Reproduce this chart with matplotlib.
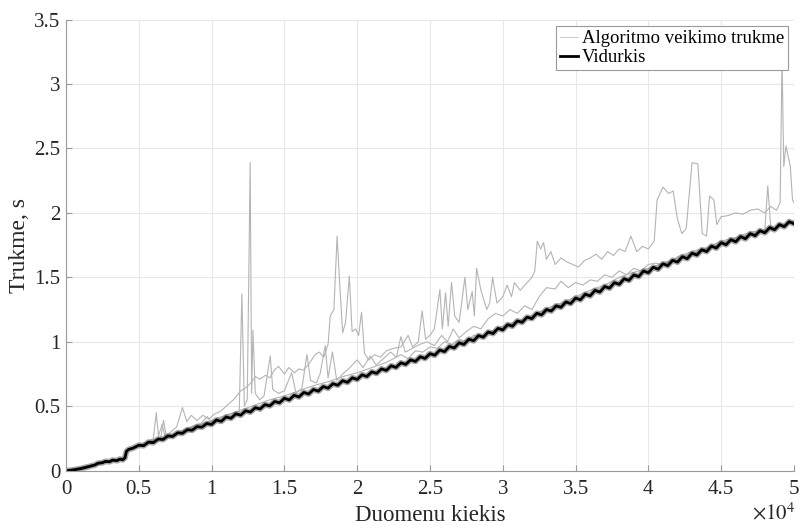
import numpy as np
import matplotlib
matplotlib.use("Agg")
import matplotlib.pyplot as plt
from matplotlib.ticker import FuncFormatter

plt.rcParams['font.family'] = ['Liberation Serif', 'DejaVu Serif']
plt.rcParams['mathtext.fontset'] = 'stix'

# ---- data (x in units of 1e4 elements, y in seconds) ----
# average line: start part, then a regular grid from 0.5 to 5.0
mean_x_start = [0, 0.05, 0.1, 0.15, 0.2, 0.22, 0.25, 0.27, 0.3, 0.32, 0.35, 0.37,
                0.39, 0.405, 0.415, 0.43, 0.46]
mean_y_start = [0.0, 0.006, 0.016, 0.03, 0.045, 0.058, 0.062, 0.072, 0.07, 0.082,
                0.078, 0.09, 0.085, 0.1, 0.15, 0.165, 0.175]
mean_y_grid = [
    0.198, 0.194, 0.222, 0.218, 0.246, 0.242, 0.270, 0.266, 0.294, 0.290,
    0.318, 0.314, 0.342, 0.338, 0.366,
    0.359, 0.393, 0.383, 0.417, 0.407, 0.441, 0.431, 0.465, 0.455, 0.489,
    0.479, 0.513, 0.503, 0.537, 0.527,
    0.562, 0.549, 0.585, 0.572, 0.607, 0.595, 0.630, 0.617, 0.653, 0.640,
    0.675, 0.663, 0.698, 0.685, 0.721,
    0.708, 0.744, 0.731, 0.767, 0.755, 0.790, 0.778, 0.814, 0.801, 0.837,
    0.825, 0.860, 0.848, 0.884, 0.871,
    0.908, 0.896, 0.936, 0.924, 0.964, 0.952, 0.992, 0.980, 1.020, 1.008,
    1.048, 1.036, 1.076, 1.064, 1.104,
    1.092, 1.133, 1.121, 1.162, 1.151, 1.191, 1.180, 1.221, 1.209, 1.250,
    1.239, 1.279, 1.268, 1.309, 1.297,
    1.339, 1.326, 1.369, 1.356, 1.399, 1.386, 1.429, 1.416, 1.459, 1.446,
    1.489, 1.476, 1.519, 1.506, 1.549,
    1.536, 1.578, 1.563, 1.605, 1.591, 1.632, 1.618, 1.660, 1.645, 1.687,
    1.673, 1.714, 1.700, 1.742, 1.727,
    1.769, 1.753, 1.792, 1.776, 1.816, 1.799, 1.839, 1.823, 1.862, 1.846,
    1.886, 1.869, 1.909, 1.893, 1.932, 1.916]

run_a_x = [0.0, 0.2, 0.4, 0.42, 0.5, 0.55, 0.6, 0.62, 0.635, 0.66, 0.68, 0.72, 0.76, 0.8,
           0.83, 0.86, 0.9, 0.94, 0.98, 1.02, 1.06, 1.1, 1.15, 1.2, 1.23, 1.27, 1.3, 1.33,
           1.37, 1.4, 1.43, 1.46, 1.5, 1.53, 1.57, 1.6, 1.63, 1.67, 1.71, 1.74, 1.77, 1.8,
           1.815, 1.84, 1.862, 1.88, 1.9, 1.92, 1.946, 1.965, 1.99, 2.01, 2.03, 2.05, 2.08,
           2.12, 2.16, 2.2, 2.25, 2.3, 2.35, 2.38, 2.42, 2.446, 2.47, 2.5, 2.53, 2.568,
           2.585, 2.607, 2.625, 2.648, 2.67, 2.7, 2.74, 2.76, 2.79, 2.805, 2.82, 2.85,
           2.89, 2.91, 2.93, 2.96, 3.0, 3.03, 3.06, 3.08, 3.12, 3.16, 3.2, 3.22, 3.237,
           3.26, 3.28, 3.3, 3.33, 3.36, 3.4, 3.44, 3.48, 3.52, 3.56, 3.6, 3.64, 3.68,
           3.72, 3.76, 3.8, 3.84, 3.88, 3.92, 3.96, 4.0, 4.04, 4.06, 4.1, 4.14, 4.17,
           4.2, 4.23, 4.26, 4.3, 4.34, 4.37, 4.4, 4.42, 4.45, 4.47, 4.5, 4.55, 4.6, 4.65,
           4.7, 4.75, 4.8, 4.84, 4.88, 4.905, 4.918, 4.93, 4.945, 4.96, 4.975, 4.99, 5.0]
run_a_y = [0.0, 0.045, 0.1, 0.16, 0.2, 0.22, 0.25, 0.45, 0.27, 0.36, 0.27, 0.3, 0.34, 0.49,
           0.38, 0.43, 0.39, 0.43, 0.40, 0.44, 0.46, 0.50, 0.55, 0.62, 0.64, 0.68, 0.73, 0.71,
           0.74, 0.72, 0.78, 0.81, 0.75, 0.8, 0.76, 0.79, 0.78, 0.83, 0.9, 0.92, 0.88, 0.98,
           1.2, 1.25, 1.82, 1.45, 1.07, 1.15, 1.51, 1.08, 1.1, 1.05, 1.23, 0.91, 0.86,
           0.9, 0.88, 0.93, 0.95, 0.96, 1.05, 0.96, 1.0, 1.24, 1.02, 1.05, 1.1, 1.405,
           1.1, 1.38, 1.12, 1.46, 1.2, 1.15, 1.5, 1.25, 1.39, 1.2, 1.57, 1.4,
           1.25, 1.3, 1.5, 1.3, 1.35, 1.44, 1.35, 1.46, 1.4, 1.45, 1.5, 1.55, 1.78,
           1.72, 1.77, 1.64, 1.7, 1.6, 1.65, 1.62, 1.6, 1.58, 1.63, 1.65, 1.68, 1.64,
           1.7, 1.67, 1.72, 1.7, 1.82, 1.7, 1.74, 1.72, 1.78, 2.1, 2.2, 2.15, 2.17,
           1.95, 1.84, 1.88, 2.39, 2.38, 1.84, 1.82, 2.13, 2.1, 1.91, 1.97, 1.98, 2.0, 1.99,
           2.02, 2.03, 2.0, 2.05, 2.02, 2.08, 3.2, 2.36, 2.52, 2.44, 2.36, 2.1, 2.08]

run_b_x = [0.0, 0.4, 0.42, 0.5, 0.55, 0.6, 0.65, 0.67, 0.69, 0.72, 0.78, 0.83, 0.88, 0.93,
           0.97, 1.0, 1.04, 1.08, 1.12, 1.16, 1.19, 1.208, 1.225, 1.245, 1.265, 1.275,
           1.284, 1.3, 1.33, 1.36, 1.403, 1.42, 1.46, 1.5, 1.55, 1.58, 1.62, 1.655, 1.68,
           1.72, 1.745, 1.78, 1.8, 1.83, 1.86, 1.9, 1.95, 2.0, 2.04, 2.09, 2.13, 2.18,
           2.23, 2.27, 2.3, 2.33, 2.38, 2.43, 2.48, 2.53, 2.58, 2.62, 2.66, 2.7, 2.75,
           2.8, 2.85, 2.9, 2.95, 3.0, 3.05, 3.1, 3.15, 3.2, 3.25, 3.3, 3.36, 3.4, 3.45,
           3.5, 3.55, 3.6, 3.65, 3.7, 3.75, 3.8, 3.85, 3.9, 3.95, 4.0, 4.05, 4.1, 4.15,
           4.2, 4.3, 4.4, 4.5, 4.6, 4.7, 4.75, 4.8, 4.82, 4.84, 4.87, 4.9, 4.95, 5.0]
run_b_y = [0.0, 0.1, 0.16, 0.2, 0.21, 0.24, 0.25, 0.39, 0.26, 0.27, 0.3, 0.33, 0.35, 0.37,
           0.42, 0.38, 0.41, 0.42, 0.44, 0.45, 0.46, 1.37, 0.5, 0.55, 2.39, 0.6,
           1.09, 0.6, 0.55, 0.58, 0.89, 0.63, 0.6, 0.62, 0.76, 0.6, 0.64, 0.9, 0.7,
           0.68, 0.75, 0.97, 0.72, 0.92, 0.70, 0.75, 0.8, 0.86, 0.8, 0.89, 0.82, 0.87,
           0.92, 0.88, 1.04, 0.92, 0.95, 0.98, 1.0, 0.97, 1.05, 1.0, 1.1, 1.03, 1.08,
           1.12, 1.1, 1.18, 1.22, 1.2, 1.25, 1.22, 1.28, 1.25, 1.35, 1.42, 1.41, 1.47, 1.42,
           1.46, 1.44, 1.48, 1.47, 1.52, 1.5, 1.55, 1.52, 1.57, 1.55, 1.6, 1.61, 1.6, 1.62,
           1.66, 1.7, 1.73, 1.78, 1.81, 1.85, 1.86, 1.87, 2.21, 1.9, 1.88, 1.92, 1.9, 1.94]

run_c_x = [0, 0.4, 0.42, 0.5, 0.6, 0.7, 0.8, 0.9, 1.0, 1.1, 1.2, 1.3, 1.4, 1.5, 1.6, 1.7,
           1.8, 1.9, 2.0, 2.1, 2.2, 2.3, 2.35, 2.4, 2.45, 2.5, 2.55, 2.6, 2.65, 2.7, 2.75,
           2.8, 2.85, 2.9, 3.0, 3.1, 3.2, 3.3, 3.4, 3.5, 3.6, 3.7, 3.8, 3.9, 4.0, 4.2,
           4.4, 4.6, 4.8, 5.0]
run_c_y = [0, 0.1, 0.16, 0.195, 0.23, 0.27, 0.31, 0.35, 0.39, 0.43, 0.47, 0.51, 0.55,
           0.58, 0.62, 0.66, 0.69, 0.73, 0.76, 0.8, 0.84, 0.9, 0.87, 0.93, 0.92, 0.96,
           0.95, 1.0, 0.98, 1.02, 1.0, 1.05, 1.04, 1.07, 1.12, 1.16, 1.2, 1.26, 1.3, 1.35,
           1.4, 1.44, 1.5, 1.54, 1.57, 1.65, 1.72, 1.8, 1.86, 1.93]

mean_x = np.array(mean_x_start + list(np.linspace(0.5, 5.0, len(mean_y_grid)))) * 1e4
mean_y = np.array(mean_y_start + mean_y_grid)

fig = plt.figure(figsize=(7.99, 5.26), dpi=100)
ax = fig.add_axes([0.0826, 0.1051, 0.9111, 0.8578])

gray = '#b4b4b4'
for rx, ry in [(run_c_x, run_c_y), (run_b_x, run_b_y), (run_a_x, run_a_y)]:
    ax.plot(np.array(rx) * 1e4, ry, color=gray, lw=0.8)
ax.plot([], [], color='#d0d0d0', lw=0.8, label='Algoritmo veikimo trukme')
ax.plot(mean_x, mean_y, color='#6e6e6e', lw=4.2, alpha=0.6)
ax.plot(mean_x, mean_y, color='black', lw=2.0, label='Vidurkis')

ax.set_xlim(0, 5e4)
ax.set_ylim(0, 3.5)
ax.set_xticks(np.arange(0, 5.01e4, 0.5e4))
ax.set_yticks(np.arange(0, 3.51, 0.5))
ax.xaxis.set_major_formatter(FuncFormatter(lambda v, p: f"{v / 1e4:g}"))
ax.yaxis.set_major_formatter(FuncFormatter(lambda v, p: f"{v:g}"))
ax.grid(True, color='#e8e8e8', lw=0.8)
ax.set_axisbelow(True)
for s in ['top', 'right']:
    ax.spines[s].set_visible(False)
for s in ['left', 'bottom']:
    ax.spines[s].set_color('#9a9a9a')
ax.tick_params(direction='in', length=4, color='#9a9a9a', labelsize=15,
               labelcolor='#262626')
ax.tick_params(axis='x', pad=7)
ax.tick_params(axis='y', pad=4)

ax.set_xlabel('Duomenu kiekis', fontsize=16.5, color='#262626', labelpad=4)
ax.set_ylabel('Trukme, s', fontsize=17, color='#262626', labelpad=3)
fig.text(0.996, 0.002, r'$\times10^{4}$', ha='right', va='bottom', fontsize=15,
         color='#262626')

leg = ax.legend(loc='upper right', bbox_to_anchor=(0.992, 0.985), fontsize=13.5,
                handlelength=1.0, handletextpad=0.2, borderpad=0.2, labelspacing=0.1,
                fancybox=False, framealpha=1, edgecolor='#9a9a9a', borderaxespad=0)
leg.get_frame().set_linewidth(0.8)

fig.savefig('out.png', dpi=100)
